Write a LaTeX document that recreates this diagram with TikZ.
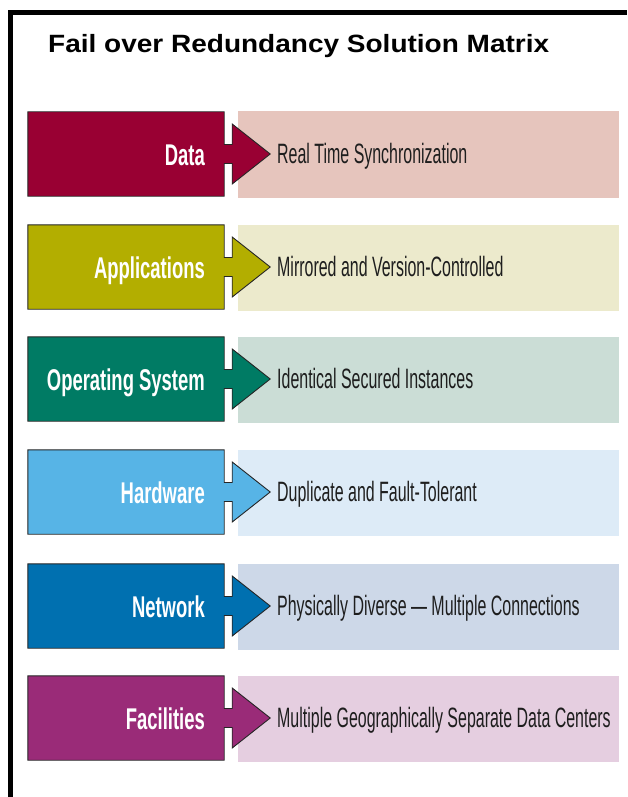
\documentclass[tikz,border=0pt]{standalone}
\usepackage{fontspec}
\setmainfont{Liberation Sans}
\newfontfamily\fmtitlefont[FakeStretch=1.12]{Liberation Sans}
\newfontfamily\fmlabelfont[FakeStretch=0.615]{Liberation Sans}
\newfontfamily\fmdescfont[FakeStretch=0.57]{Liberation Sans}
\definecolor{dData}{RGB}{153,0,51}
\definecolor{lData}{RGB}{230,197,189}
\definecolor{dApp}{RGB}{179,174,0}
\definecolor{lApp}{RGB}{236,234,204}
\definecolor{dOS}{RGB}{0,123,100}
\definecolor{lOS}{RGB}{203,221,214}
\definecolor{dHW}{RGB}{87,180,230}
\definecolor{lHW}{RGB}{221,235,247}
\definecolor{dNet}{RGB}{0,112,176}
\definecolor{lNet}{RGB}{205,216,232}
\definecolor{dFac}{RGB}{154,43,120}
\definecolor{lFac}{RGB}{229,206,224}
\definecolor{txtgray}{RGB}{30,30,30}
\tikzset{
  lightbox/.style={rectangle, draw=none, minimum width=381pt, minimum height=86pt, inner sep=0pt},
  darkbox/.style={rectangle, draw=none, minimum width=196pt, minimum height=84pt, inner sep=0pt},
  darkshape/.style={draw=black!85, line width=0.9pt, line join=miter},
  labeltext/.style={inner sep=0pt, text=white, font=\fmlabelfont\bfseries\fontsize{30}{34}\selectfont},
  desctext/.style={inner sep=0pt, text=txtgray, font=\fmdescfont\fontsize{28}{32}\selectfont},
  frameline/.style={line width=5pt, black},
}
\begin{document}
\begin{tikzpicture}[x=1pt, y=-1pt]
\useasboundingbox (0,0) rectangle (627,797);
\draw[frameline] (10.5,797) -- (10.5,12.5) -- (627,12.5);
\node[anchor=base west, inner sep=0pt, font=\fmtitlefont\bfseries\fontsize{25}{30}\selectfont] (title) at (48,53) {Fail over Redundancy Solution Matrix};
\foreach \n/\t/\dc/\lc/\lab/\txt in {
  data/112/dData/lData/Data/Real Time Synchronization,
  app/225/dApp/lApp/Applications/Mirrored and Version-Controlled,
  os/337/dOS/lOS/Operating System/Identical Secured Instances,
  hw/450/dHW/lHW/Hardware/Duplicate and Fault-Tolerant,
  net/564/dNet/lNet/Network/Physically Diverse — Multiple Connections,
  fac/676/dFac/lFac/Facilities/Multiple Geographically Separate Data Centers}{
  \node[lightbox, fill=\lc] (\n L) at (428.5,\t+42.5) {};
  \node[darkbox] (\n D) at (126,\t+42) {};
  \begin{scope}[shift={(\n D.east)}]
    \draw[darkshape, fill=\dc] (\n D.north west) -- (\n D.north east) -- (0,-9.5) -- (8,-9.5) -- (8,-30) -- (46,0) -- (8,30) -- (8,9.5) -- (0,9.5) -- (\n D.south east) -- (\n D.south west) -- cycle;
  \end{scope}
  \node[labeltext, anchor=base east] (\n T) at (205,\t+53.5) {\lab};
  \node[desctext, anchor=base west] (\n X) at (277,\t+51.5) {\txt};
}
\end{tikzpicture}
\end{document}
